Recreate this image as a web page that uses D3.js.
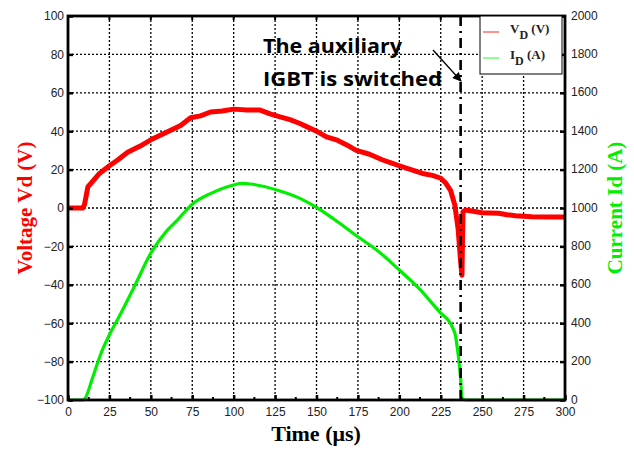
<!DOCTYPE html>
<html>
<head>
<meta charset="utf-8">
<script src="https://cdn.jsdelivr.net/npm/d3@7"></script>
<style>
  body { margin: 0; background: #fff; }
  svg { display: block; }
  .tick text { font-family: "Liberation Sans", Arial, sans-serif; font-size: 12px; fill: #222; }
</style>
</head>
<body>
<div id="chart"></div>
<script>
// voltage trace V_D (V) vs time (us)
const vTime  = [0, 5, 9, 10, 12, 15, 19, 25, 30, 36, 43, 50, 56, 62, 68, 74, 80, 86, 93, 100, 108, 116, 122, 128, 134, 140, 145, 150, 156, 162, 168, 174, 182, 190, 195, 200, 207, 214, 220, 225, 228, 231, 233.5, 235.5, 237, 237.8, 238.4, 240, 250, 260, 265, 270, 280, 290, 300]
const vValue = [0, 0, 0, 2, 11, 14, 18, 22, 25, 29, 32, 35.5, 38, 40.5, 43, 47, 48, 50, 50.5, 51.5, 51, 51, 49, 47.5, 46, 44, 42, 40, 37, 35.5, 33, 30, 28, 25, 23.5, 22, 20, 18, 17, 15.5, 13, 9, 1.5, -11, -28, -35, -2, -1, -2.5, -2.7, -3.5, -4, -4.5, -4.7, -4.7]

// current trace I_D (A) vs time (us)
const iTime  = [0, 9, 10, 15, 20, 25, 30, 40, 50, 60, 66, 75, 86, 100, 105, 110, 126, 140, 150, 160, 175, 188, 200, 212, 225, 230, 232, 234, 235, 236, 237, 237.8, 240, 250, 300]
const iValue = [0, 0, 5, 120, 245, 340, 420, 590, 765, 885, 937, 1020, 1075, 1120, 1128, 1125, 1094, 1050, 1003, 945, 850, 770, 677, 580, 453, 410, 380, 330, 270, 200, 110, 10, 0, 0, 0]

// ticks
const xTicks  = [0, 25, 50, 75, 100, 125, 150, 175, 200, 225, 250, 275, 300]
const yTicks  = [-100, -80, -60, -40, -20, 0, 20, 40, 60, 80, 100]
const y2Ticks = [0, 200, 400, 600, 800, 1000, 1200, 1400, 1600, 1800, 2000]

const switchTime = 237

const width = 634
const height = 449
const plot = {left: 68, top: 16, right: 565, bottom: 400}

const $svg = d3.select('#chart')
	.append('svg')
	.attr('width', width)
	.attr('height', height)

const x = d3.scaleLinear().domain([0, 300]).range([plot.left, plot.right])
const y = d3.scaleLinear().domain([-100, 100]).range([plot.bottom, plot.top])
const y2 = d3.scaleLinear().domain([0, 2000]).range([plot.bottom, plot.top])

// dotted grid
const $grid = $svg.append('g')
	.attr('stroke', '#000')
	.attr('stroke-width', 1.3)
	.attr('stroke-dasharray', '2,2')

$grid.selectAll('.vgrid')
	.data(xTicks.slice(1, -1))
	.join('line')
		.attr('x1', d => x(d)).attr('x2', d => x(d))
		.attr('y1', plot.top).attr('y2', plot.bottom)

$grid.selectAll('.hgrid')
	.data(yTicks.slice(1, -1))
	.join('line')
		.attr('x1', plot.left).attr('x2', plot.right)
		.attr('y1', d => y(d)).attr('y2', d => y(d))

// current trace
const iLine = d3.line()
	.x((d, i) => x(iTime[i]))
	.y(d => y2(d))
	.curve(d3.curveMonotoneX)

$svg.append('path')
	.attr('d', iLine(iValue))
	.attr('fill', 'none')
	.attr('stroke', '#00ee00')
	.attr('stroke-width', 3.2)
	.attr('stroke-linejoin', 'round')

// voltage trace
const vLine = d3.line()
	.x((d, i) => x(vTime[i]))
	.y(d => y(d))

$svg.append('path')
	.attr('d', vLine(vValue))
	.attr('fill', 'none')
	.attr('stroke', '#ff0000')
	.attr('stroke-width', 5)
	.attr('stroke-linejoin', 'round')

// dash-dot switch line
$svg.append('line')
	.attr('x1', x(switchTime)).attr('x2', x(switchTime))
	.attr('y1', plot.top).attr('y2', plot.bottom)
	.attr('stroke', '#000')
	.attr('stroke-width', 2.6)
	.attr('stroke-dasharray', '10,5,2,5')

// axes, ticks pointing inward
const xAxis = d3.axisBottom(x).tickValues(xTicks).tickSize(-5).tickPadding(7).tickFormat(d3.format('d'))
const yAxis = d3.axisLeft(y).tickValues(yTicks).tickSize(-5).tickPadding(4).tickFormat(d3.format('d'))
const y2Axis = d3.axisRight(y2).tickValues(y2Ticks).tickSize(-5).tickPadding(6).tickFormat(d3.format('d'))

const styleAxis = $g => {
	$g.select('.domain').remove()
	$g.selectAll('.tick line').attr('stroke', '#000').attr('stroke-width', 2.5)
}

$svg.append('g').attr('transform', `translate(0,${plot.bottom})`).call(xAxis).call(styleAxis)
$svg.append('g').attr('transform', `translate(${plot.left},0)`).call(yAxis).call(styleAxis)
$svg.append('g').attr('transform', `translate(${plot.right},0)`).call(y2Axis).call(styleAxis)
	.selectAll('.tick text').attr('dy', '0.25em')

// minor x ticks at half steps, top and bottom
const minorX = xTicks.slice(0, -1).map(d => d + 12.5)
$svg.append('g')
	.selectAll('line')
	.data(minorX)
	.join('line')
		.attr('x1', d => x(d)).attr('x2', d => x(d))
		.attr('y1', plot.bottom).attr('y2', plot.bottom - 3)
		.attr('stroke', '#000').attr('stroke-width', 2)
$svg.append('g')
	.selectAll('line')
	.data(xTicks)
	.join('line')
		.attr('x1', d => x(d)).attr('x2', d => x(d))
		.attr('y1', plot.top).attr('y2', plot.top + 4)
		.attr('stroke', '#000').attr('stroke-width', 2)

// frame
$svg.append('rect')
	.attr('x', plot.left).attr('y', plot.top)
	.attr('width', plot.right - plot.left)
	.attr('height', plot.bottom - plot.top)
	.attr('fill', 'none')
	.attr('stroke', '#000')
	.attr('stroke-width', 2.8)

// axis titles
const titleFont = '"Liberation Serif", "Times New Roman", serif'

$svg.append('text')
	.attr('transform', `translate(32,208) rotate(-90)`)
	.attr('text-anchor', 'middle')
	.attr('font-family', titleFont)
	.attr('font-weight', 'bold')
	.attr('font-size', 21)
	.attr('fill', '#ff0000')
	.text('Voltage Vd (V)')

$svg.append('text')
	.attr('transform', `translate(622,208) rotate(-90)`)
	.attr('text-anchor', 'middle')
	.attr('font-family', titleFont)
	.attr('font-weight', 'bold')
	.attr('font-size', 21)
	.attr('fill', '#00ee00')
	.text('Current Id (A)')

$svg.append('text')
	.attr('x', 316).attr('y', 441)
	.attr('text-anchor', 'middle')
	.attr('font-family', titleFont)
	.attr('font-weight', 'bold')
	.attr('font-size', 22)
	.attr('fill', '#000')
	.text('Time (μs)')

// annotation
const noteFont = '"Open Sans", sans-serif'
$svg.append('text')
	.attr('x', 263).attr('y', 53)
	.attr('font-family', noteFont).attr('font-weight', 'bold').attr('font-size', 20)
	.attr('textLength', 139).attr('lengthAdjust', 'spacingAndGlyphs')
	.text('The auxiliary')
$svg.append('text')
	.attr('x', 263).attr('y', 86)
	.attr('font-family', noteFont).attr('font-weight', 'bold').attr('font-size', 20)
	.attr('textLength', 179).attr('lengthAdjust', 'spacingAndGlyphs')
	.text('IGBT is switched')

$svg.append('defs').append('marker')
	.attr('id', 'arrow')
	.attr('viewBox', '0 0 10 10')
	.attr('refX', 9).attr('refY', 5)
	.attr('markerWidth', 11).attr('markerHeight', 9)
	.attr('markerUnits', 'userSpaceOnUse')
	.attr('orient', 'auto')
	.append('path')
		.attr('d', 'M0,0 L10,5 L0,10 Z')
		.attr('fill', '#000')

$svg.append('line')
	.attr('x1', 433).attr('y1', 50)
	.attr('x2', 461).attr('y2', 81)
	.attr('stroke', '#000')
	.attr('stroke-width', 1.3)
	.attr('marker-end', 'url(#arrow)')

// legend
const $legend = $svg.append('g')
$legend.append('rect')
	.attr('x', 480).attr('y', 16)
	.attr('width', 82).attr('height', 58)
	.attr('fill', '#fff')
	.attr('stroke', '#000')
	.attr('stroke-width', 1)

const legendItems = [
	{main: 'V', sub: 'D', unit: ' (V)', color: '#ff5555', y: 33},
	{main: 'I', sub: 'D', unit: ' (A)', color: '#55ff55', y: 59}
]

legendItems.forEach(d => {
	$legend.append('line')
		.attr('x1', 483).attr('x2', 499)
		.attr('y1', d.y - 1).attr('y2', d.y - 1)
		.attr('stroke', d.color).attr('stroke-width', 1.3)
	const $t = $legend.append('text')
		.attr('x', 510).attr('y', d.y)
		.attr('font-family', titleFont)
		.attr('font-weight', 'bold')
		.attr('font-size', 13)
		.attr('fill', '#222')
	$t.append('tspan').text(d.main)
	$t.append('tspan').attr('dy', 6).attr('font-size', 12).text(d.sub)
	$t.append('tspan').attr('dy', -6).text(d.unit)
})
</script>
</body>
</html>
